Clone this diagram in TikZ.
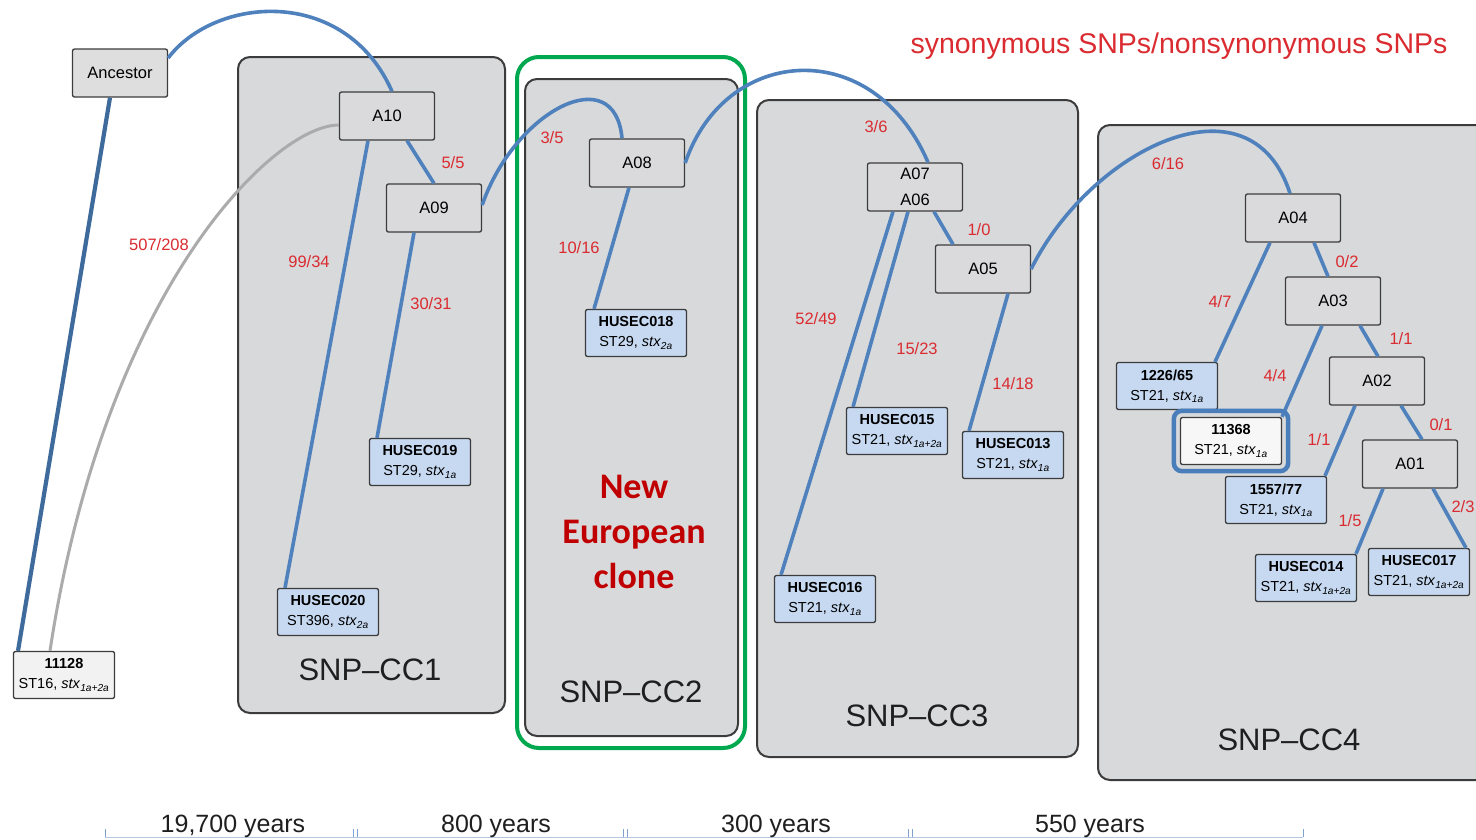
\documentclass[tikz,border=0pt]{standalone}
\usepackage{fontspec}
\setmainfont{Liberation Sans}
\newfontfamily\calib{Carlito}
\usetikzlibrary{fit}
\definecolor{panelfill}{HTML}{D8D9DB}
\definecolor{panelborder}{HTML}{3C3C3C}
\definecolor{nodefill}{HTML}{DADADC}
\definecolor{leaffill}{HTML}{C6D9F1}
\definecolor{blueline}{HTML}{4F81BD}
\definecolor{darkblueline}{HTML}{3E6A9C}
\definecolor{snpred}{HTML}{DA2B30}
\definecolor{cloneRed}{HTML}{C00000}
\definecolor{frameGreen}{HTML}{00A84F}
\definecolor{hlblue}{HTML}{4A7EBB}
\definecolor{greyline}{HTML}{ABABAB}
\definecolor{tlblue}{HTML}{7FA3D1}
\begin{document}
\begin{tikzpicture}[x=1pt,y=-1pt,
  panel/.style={draw=panelborder, fill=panelfill, line width=2pt, rounded corners=12pt},
  inode/.style={draw=panelborder, fill=nodefill, line width=1.3pt, rounded corners=2pt,
    minimum width=95pt, minimum height=48pt, inner sep=0pt,
    font=\fontsize{16.5}{26}\selectfont, align=center},
  leaf/.style={draw=panelborder, fill=leaffill, line width=1.3pt, rounded corners=2pt,
    minimum width=101pt, minimum height=47pt, inner sep=0pt,
    font=\fontsize{14.5}{20}\selectfont, align=center},
  link/.style={draw=blueline, line width=3.6pt},
  snp/.style={text=snpred, font=\fontsize{16.5}{18}\selectfont, inner sep=0pt},
  cclabel/.style={font=\fontsize{31}{34}\selectfont, text=black!88, inner sep=0pt},
  yearlabel/.style={font=\fontsize{25}{28}\selectfont, anchor=base, inner sep=0pt, text=black!88},
  hl/.style={draw=hlblue, line width=4.5pt, rounded corners=8pt, inner sep=6pt},
  tick/.style={draw=tlblue, line width=1pt}
]
\clip (0,0) rectangle (1476,839);
\fill[white] (0,0) rectangle (1476,839);

% cluster panels
\path[panel] (238,57) rectangle (505,713);
\path[panel] (525,79) rectangle (738,736);
\path[panel] (757,100) rectangle (1078,757);
\path[panel] (1098,125) rectangle (1495,780);
\draw[frameGreen, line width=4pt, rounded corners=22pt] (517,57) rectangle (745,748);

% nodes
\node[inode, fill=nodefill!90!white] (anc) at (120,73) {Ancestor};
\node[inode] (A10) at (387,116) {A10};
\node[inode] (A09) at (434,208) {A09};
\node[inode] (A08) at (637,163) {A08};
\node[inode] (A07) at (915,187) {A07\\A06};
\node[inode] (A05) at (983,269) {A05};
\node[inode] (A04) at (1293,218) {A04};
\node[inode] (A03) at (1333,301) {A03};
\node[inode] (A02) at (1377,381) {A02};
\node[inode] (A01) at (1410,464) {A01};

\node[leaf, fill=black!5] (L11128) at (64,675) {\textbf{11128}\\ST16, \textit{stx}\textsubscript{\textit{1a+2a}}};
\node[leaf] (H020) at (328,612) {\textbf{HUSEC020}\\ST396, \textit{stx}\textsubscript{\textit{2a}}};
\node[leaf] (H019) at (420,462) {\textbf{HUSEC019}\\ST29, \textit{stx}\textsubscript{\textit{1a}}};
\node[leaf] (H018) at (636,333) {\textbf{HUSEC018}\\ST29, \textit{stx}\textsubscript{\textit{2a}}};
\node[leaf] (H015) at (897,431) {\textbf{HUSEC015}\\ST21, \textit{stx}\textsubscript{\textit{1a+2a}}};
\node[leaf] (H013) at (1013,455) {\textbf{HUSEC013}\\ST21, \textit{stx}\textsubscript{\textit{1a}}};
\node[leaf] (H016) at (825,599) {\textbf{HUSEC016}\\ST21, \textit{stx}\textsubscript{\textit{1a}}};
\node[leaf] (L1226) at (1167,386) {\textbf{1226/65}\\ST21, \textit{stx}\textsubscript{\textit{1a}}};
\node[leaf, fill=black!3] (L11368) at (1231,441) {\textbf{11368}\\ST21, \textit{stx}\textsubscript{\textit{1a}}};
\node[leaf] (L1557) at (1276,500) {\textbf{1557/77}\\ST21, \textit{stx}\textsubscript{\textit{1a}}};
\node[leaf] (H014) at (1306,578) {\textbf{HUSEC014}\\ST21, \textit{stx}\textsubscript{\textit{1a+2a}}};
\node[leaf] (H017) at (1419,572) {\textbf{HUSEC017}\\ST21, \textit{stx}\textsubscript{\textit{1a+2a}}};

% connectors
\begin{scope}
\draw[greyline, line width=3pt] ([yshift=-9pt]A10.west) .. controls +(-65,0) and +(55,-362) .. ([xshift=-14pt]L11128.north);
\draw[darkblueline, line width=4.2pt] ([xshift=-10pt]anc.south) -- ([xshift=-46pt]L11128.north);
\draw[link] ([yshift=15pt]anc.east) .. controls +(47,-62) and +(-47,-106) .. ([xshift=5pt]A10.north);
\draw[link] ([xshift=-19pt]A10.south) -- ([xshift=-43pt]H020.north);
\draw[link] ([xshift=20pt]A10.south) -- (A09.north);
\draw[link] ([xshift=-20pt]A09.south) -- ([xshift=-43pt]H019.north);
\draw[link] ([yshift=3pt]A09.east) .. controls +(33,-95) and +(-7,-79) .. ([xshift=-15pt]A08.north);
\draw[link] ([xshift=-8pt]A08.south) -- ([xshift=-42pt]H018.north);
\draw[link] (A08.east) .. controls +(40,-118) and +(-55,-128) .. ([xshift=13pt]A07.north);
\draw[link] ([xshift=-22pt]A07.south) -- ([xshift=-44pt]H016.north);
\draw[link] ([xshift=-7pt]A07.south) -- ([xshift=-44pt]H015.north);
\draw[link] ([xshift=19pt]A07.south) -- ([xshift=-30pt]A05.north);
\draw[link] ([xshift=25pt]A05.south) -- ([xshift=-44pt]H013.north);
\draw[link] (A05.east) .. controls +(59,-119) and +(-40,-124) .. ([xshift=-3pt]A04.north);
\draw[link] ([xshift=-23pt]A04.south) -- ([xshift=48pt]L1226.north);
\draw[link] ([xshift=21pt]A04.south) -- ([xshift=-5pt]A03.north);
\draw[link] ([xshift=-11pt]A03.south) -- ([xshift=51pt]L11368.north);
\draw[link] ([xshift=27pt]A03.south) -- ([xshift=1pt]A02.north);
\draw[link] ([xshift=-22pt]A02.south) -- ([xshift=49pt]L1557.north);
\draw[link] ([xshift=24pt]A02.south) -- ([xshift=12pt]A01.north);
\draw[link] ([xshift=-27pt]A01.south) -- ([xshift=50pt]H014.north);
\draw[link] ([xshift=23pt]A01.south) -- ([xshift=47pt]H017.north);
\end{scope}

% highlight of 11368
\node[hl, fit=(L11368)] (hlbox) {};

% SNP labels
\node[snp] (s1) at (159,245) {507/208};
\node[snp] (s2) at (309,262) {99/34};
\node[snp] (s3) at (453,163) {5/5};
\node[snp] (s4) at (431,304) {30/31};
\node[snp] (s5) at (552,138) {3/5};
\node[snp] (s6) at (579,248) {10/16};
\node[snp] (s7) at (876,127) {3/6};
\node[snp] (s8) at (816,319) {52/49};
\node[snp] (s9) at (917,349) {15/23};
\node[snp] (s10) at (979,230) {1/0};
\node[snp] (s11) at (1013,384) {14/18};
\node[snp] (s12) at (1168,164) {6/16};
\node[snp] (s13) at (1347,262) {0/2};
\node[snp] (s14) at (1220,302) {4/7};
\node[snp] (s15) at (1401,339) {1/1};
\node[snp] (s16) at (1275,376) {4/4};
\node[snp] (s17) at (1441,425) {0/1};
\node[snp] (s18) at (1319,440) {1/1};
\node[snp] (s19) at (1350,521) {1/5};
\node[snp] (s20) at (1463,507) {2/3};

% legend
\node[text=snpred, font=\fontsize{28.5}{30}\selectfont, anchor=base, inner sep=0pt] (legend) at (1179,53) {synonymous SNPs/nonsynonymous SNPs};

% cluster labels
\node[cclabel] (cc1) at (370,670) {SNP–CC1};
\node[cclabel] (cc2) at (631,692) {SNP–CC2};
\node[cclabel] (cc3) at (917,716) {SNP–CC3};
\node[cclabel] (cc4) at (1289,740) {SNP–CC4};

% new European clone
\node[text=cloneRed, font=\calib\bfseries\fontsize{36}{45}\selectfont, align=center, inner sep=0pt] (clone) at (634,531.5) {New\\European\\clone};

% timeline
\coordinate (t0) at (105,837);
\coordinate (t1) at (355,837);
\coordinate (t2) at (625,837);
\coordinate (t3) at (910,837);
\coordinate (t4) at (1303,837);
\draw[draw=tlblue!60, line width=1pt] (t0) -- (t4);
\draw[tick] (t0) -- +(0,-8);
\draw[tick] ([xshift=-2pt]t1) -- +(0,-8);
\draw[tick] ([xshift=2pt]t1) -- +(0,-8);
\draw[tick] ([xshift=-2pt]t2) -- +(0,-8);
\draw[tick] ([xshift=2pt]t2) -- +(0,-8);
\draw[tick] ([xshift=-2pt]t3) -- +(0,-8);
\draw[tick] ([xshift=2pt]t3) -- +(0,-8);
\draw[tick] (t4) -- +(0,-8);
\node[yearlabel] (y1) at (233,832) {19,700 years};
\node[yearlabel] (y2) at (496,832) {800 years};
\node[yearlabel] (y3) at (776,832) {300 years};
\node[yearlabel] (y4) at (1090,832) {550 years};
\end{tikzpicture}
\end{document}
